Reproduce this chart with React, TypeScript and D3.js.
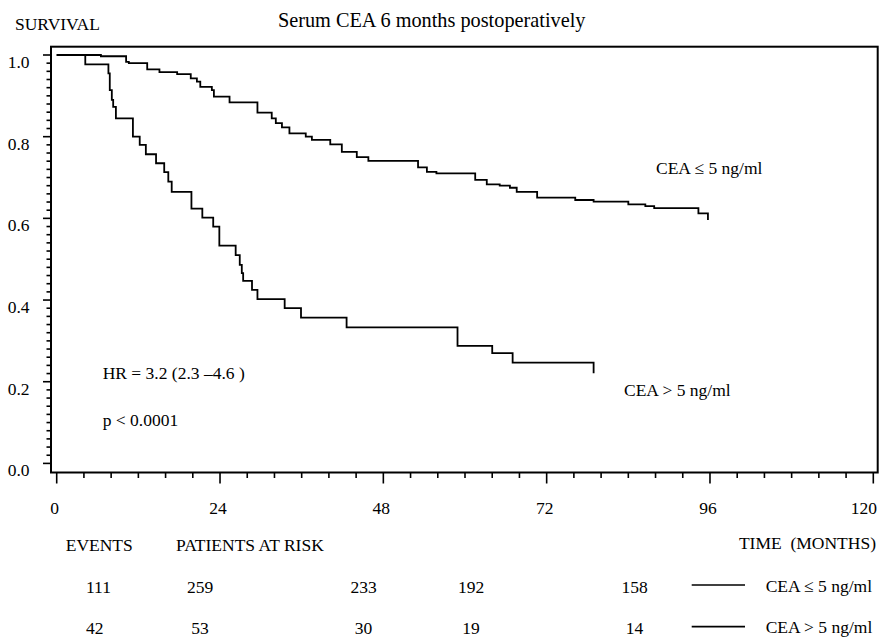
import React from "react";
import * as d3 from "d3";

const lowTimes = [0, 6.5, 10.2, 10.6, 13.3, 15.1, 17.7, 19.7, 20.6, 21.1, 22.8, 23.1, 25.4, 29.5, 31.6, 32.2, 33.1, 34.2, 36.6, 37.5, 40.2, 41.9, 44.1, 45.8, 53.1, 54.4, 55.8, 61.5, 63.2, 65.1, 66.6, 67.6, 70.6, 76.2, 78.9, 84.0, 86.5, 87.8, 94.3, 95.7];
const lowSurv = [1, 0.997, 0.983, 0.98, 0.965, 0.958, 0.953, 0.943, 0.935, 0.922, 0.914, 0.898, 0.884, 0.859, 0.845, 0.833, 0.823, 0.808, 0.8, 0.792, 0.781, 0.763, 0.75, 0.741, 0.725, 0.714, 0.71, 0.694, 0.683, 0.68, 0.675, 0.665, 0.651, 0.645, 0.641, 0.634, 0.63, 0.625, 0.612, 0.596];

const highTimes = [0, 4.2, 7.6, 7.8, 8.1, 8.3, 8.7, 11.2, 12.2, 13.1, 14.6, 15.8, 16.4, 16.9, 19.8, 21.4, 23.0, 23.9, 26.3, 26.9, 27.2, 27.4, 28.7, 29.5, 33.5, 35.9, 42.6, 58.9, 64.0, 67.0, 78.9];
const highSurv = [1, 0.977, 0.955, 0.914, 0.89, 0.873, 0.845, 0.8, 0.78, 0.757, 0.735, 0.713, 0.69, 0.665, 0.624, 0.602, 0.58, 0.533, 0.51, 0.486, 0.466, 0.447, 0.425, 0.402, 0.38, 0.357, 0.333, 0.288, 0.27, 0.247, 0.221];

const xTickLabels = [0, 24, 48, 72, 96, 120];
const yTickLabels = ["0.0", "0.2", "0.4", "0.6", "0.8", "1.0"];
const groupLabels = ["CEA \u2264 5 ng/ml", "CEA > 5 ng/ml"];
const events = [111, 42];
const riskLow = [259, 233, 192, 158];
const riskHigh = [53, 30, 19, 14];
const hrText = "HR = 3.2 (2.3 \u20134.6 )";
const pText = "p < 0.0001";

const W = 882;
const H = 637;
const FONT = "'Liberation Serif', 'Times New Roman', serif";
const FS = 17.5;

export default function App() {
  const x = d3.scaleLinear().domain([0, 120]).range([56.7, 873.3]);
  const y = d3.scaleLinear().domain([0, 1]).range([463.4, 55]);
  const frame = { left: 51, right: 877.7, top: 46.7, bottom: 472.5 };

  const line = d3
    .line<[number, number]>()
    .x((d) => x(d[0]))
    .y((d) => y(d[1]))
    .curve(d3.curveStepAfter);

  const lowPts: [number, number][] = lowTimes.map((t, i) => [t, lowSurv[i]]);
  const highPts: [number, number][] = highTimes.map((t, i) => [t, highSurv[i]]);

  const xMinor = d3.range(0, 121, 4);
  const yMinor = d3.range(0, 51).map((i) => i / 50);

  const riskCols = [200, 363.5, 471, 634.5];
  const rowY = [592.5, 633.5];
  const lineY = [585, 626.7];

  return (
    <svg
      width={W}
      height={H}
      style={{ position: "absolute", left: 0, top: 0, background: "#fff" }}
      fontFamily={FONT}
      fontSize={FS}
      fill="#000"
    >
      <rect x={0} y={0} width={W} height={H} fill="#fff" />
      <text x={431.7} y={26.7} textAnchor="middle" fontSize={20.3}>
        Serum CEA 6 months postoperatively
      </text>
      <text x={15} y={30}>SURVIVAL</text>

      <rect
        x={frame.left}
        y={frame.top}
        width={frame.right - frame.left}
        height={frame.bottom - frame.top}
        fill="none"
        stroke="#000"
        strokeWidth={2}
      />

      {yMinor.map((v, i) => (
        <line
          key={"ym" + i}
          x1={i % 10 === 0 ? 43 : 46.5}
          x2={frame.left}
          y1={y(v)}
          y2={y(v)}
          stroke="#000"
          strokeWidth={1.6}
        />
      ))}
      {yTickLabels.map((lab, i) => (
        <text key={"yl" + i} x={29.5} y={y(i * 0.2) + 13} textAnchor="end">
          {lab}
        </text>
      ))}

      {xMinor.map((v, i) => (
        <line
          key={"xm" + i}
          x1={x(v)}
          x2={x(v)}
          y1={frame.bottom}
          y2={v % 24 === 0 ? 483.5 : 478}
          stroke="#000"
          strokeWidth={1.6}
        />
      ))}
      {xTickLabels.map((v, i) => (
        <text
          key={"xl" + i}
          x={v === 120 ? 877 : x(v) - 2}
          y={514}
          textAnchor={v === 120 ? "end" : "middle"}
        >
          {v}
        </text>
      ))}

      <path d={line(lowPts) || ""} fill="none" stroke="#000" strokeWidth={1.8} />
      <path d={line(highPts) || ""} fill="none" stroke="#000" strokeWidth={1.8} />

      <text x={656} y={174.3}>{groupLabels[0]}</text>
      <text x={624} y={396}>{groupLabels[1]}</text>
      <text x={102.7} y={379}>{hrText}</text>
      <text x={102.7} y={425.7}>{pText}</text>

      <text x={65.7} y={550.7}>EVENTS</text>
      <text x={176} y={550.7}>PATIENTS AT RISK</text>
      <text x={876} y={548.5} textAnchor="end" style={{ whiteSpace: "pre" }}>
        {"TIME  (MONTHS)"}
      </text>

      {[riskLow, riskHigh].map((row, r) => (
        <g key={"row" + r}>
          <text x={86} y={rowY[r]}>{events[r]}</text>
          {row.map((n, c) => (
            <text key={c} x={riskCols[c]} y={rowY[r]} textAnchor="middle">
              {n}
            </text>
          ))}
          <line x1={691.7} x2={745} y1={lineY[r]} y2={lineY[r]} stroke="#000" strokeWidth={1.7} />
          <text x={765.7} y={rowY[r] - 0.8}>{groupLabels[r]}</text>
        </g>
      ))}
    </svg>
  );
}
